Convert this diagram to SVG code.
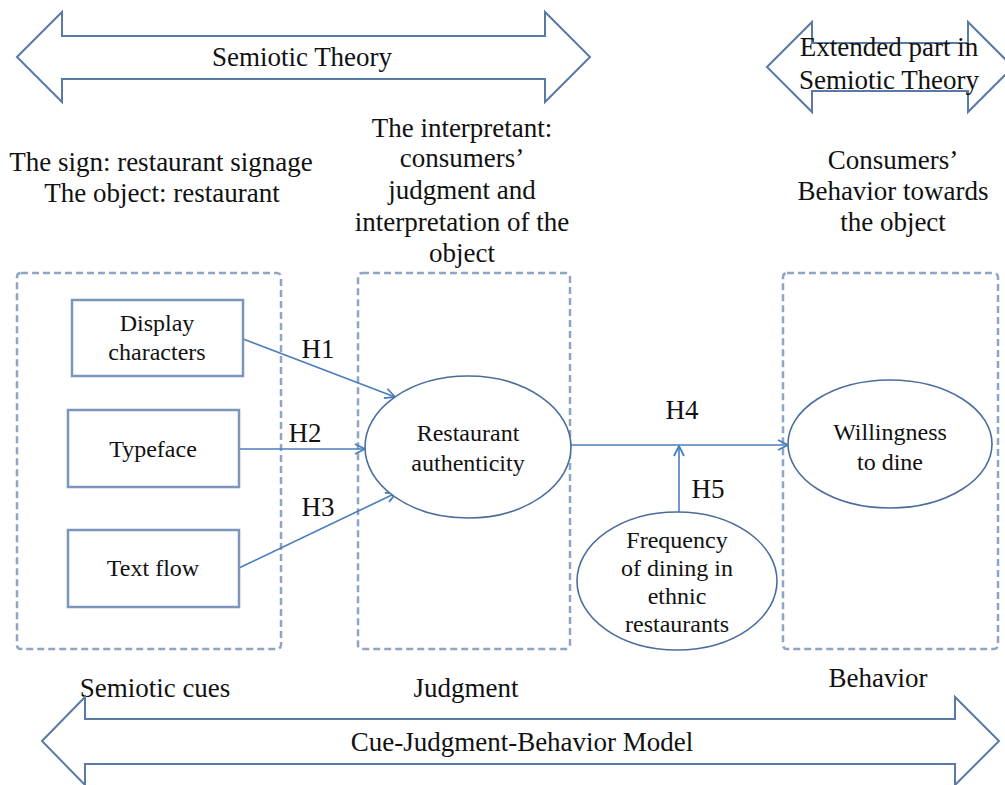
<svg xmlns="http://www.w3.org/2000/svg" width="1005" height="785" viewBox="0 0 1005 785">
<style>
text{font-family:"Liberation Serif","Times New Roman",serif;fill:#111;text-anchor:middle}
.h{font-size:27px}
.n{font-size:24px}
.big{fill:#fff;stroke:#5a7aa6;stroke-width:2}
.dash{fill:none;stroke:#8fa5c4;stroke-width:2.5;stroke-dasharray:7 4}
.box{fill:#fff;stroke:#7b95bd;stroke-width:2.5}
.ell{fill:#fff;stroke:#4a6d9e;stroke-width:1.6}
.con{fill:none;stroke:#4a7ebb;stroke-width:1.6;marker-end:url(#ah)}
</style>
<defs>
<marker id="ah" viewBox="0 0 12 12" refX="11" refY="6" markerWidth="12" markerHeight="12" markerUnits="userSpaceOnUse" orient="auto">
<path d="M1,1 L11,6 L1,11" fill="none" stroke="#4a7ebb" stroke-width="1.8"/>
</marker>
</defs>
<rect width="1005" height="785" fill="#fff"/>
<g id="semiotic-theory">
<polygon class="big" points="17,57 62,12 62,36 545,36 545,12 590,57 545,102 545,79 62,79 62,102"/>
<text class="h" x="302" y="66">Semiotic Theory</text>
</g>
<g id="extended-part">
<polygon class="big" points="767,67 812,22 812,43 968,43 968,22 1013,67 968,112 968,91 812,91 812,112"/>
<text class="h" x="889" y="56">Extended part in</text>
<text class="h" x="889" y="89">Semiotic Theory</text>
</g>
<g id="sign-label">
<text class="h" x="161" y="171">The sign: restaurant signage</text>
<text class="h" x="162" y="202">The object: restaurant</text>
</g>
<g id="interpretant-label">
<text class="h" x="462" y="137">The interpretant:</text>
<text class="h" x="462" y="167">consumers’</text>
<text class="h" x="462" y="199">judgment and</text>
<text class="h" x="462" y="231">interpretation of the</text>
<text class="h" x="462" y="262">object</text>
</g>
<g id="behavior-label">
<text class="h" x="893" y="169">Consumers’</text>
<text class="h" x="893" y="200">Behavior towards</text>
<text class="h" x="893" y="231">the object</text>
</g>
<g id="cues-group"><rect class="dash" x="17" y="273" width="264" height="376" rx="4"/></g>
<g id="judgment-group"><rect class="dash" x="358" y="273" width="212" height="376" rx="4"/></g>
<g id="behavior-group"><rect class="dash" x="783" y="273" width="215" height="376" rx="4"/></g>
<g id="connectors">
<line class="con" x1="243" y1="339" x2="395" y2="397"/>
<line class="con" x1="239" y1="449" x2="365" y2="449"/>
<line class="con" x1="239" y1="568" x2="396" y2="493"/>
<line class="con" x1="571" y1="445" x2="788" y2="445"/>
<line class="con" x1="679" y1="512" x2="679" y2="446"/>
</g>
<g id="display-characters">
<rect class="box" x="72" y="300" width="171" height="76"/>
<text class="n" x="157" y="331">Display</text>
<text class="n" x="157" y="360">characters</text>
</g>
<g id="typeface">
<rect class="box" x="68" y="410" width="171" height="77"/>
<text class="n" x="153" y="457">Typeface</text>
</g>
<g id="text-flow">
<rect class="box" x="68" y="530" width="171" height="77"/>
<text class="n" x="153" y="576">Text flow</text>
</g>
<g id="restaurant-authenticity">
<ellipse class="ell" cx="468" cy="447" rx="103" ry="71"/>
<text class="n" x="468" y="441">Restaurant</text>
<text class="n" x="468" y="471">authenticity</text>
</g>
<g id="willingness">
<ellipse class="ell" cx="890" cy="444" rx="102" ry="64"/>
<text class="n" x="890" y="440">Willingness</text>
<text class="n" x="890" y="470">to dine</text>
</g>
<g id="frequency">
<ellipse class="ell" cx="677" cy="581" rx="100" ry="69"/>
<text class="n" x="677" y="548">Frequency</text>
<text class="n" x="677" y="576">of dining in</text>
<text class="n" x="677" y="604">ethnic</text>
<text class="n" x="677" y="632">restaurants</text>
</g>
<g id="hypotheses">
<text class="h" x="318" y="358">H1</text>
<text class="h" x="305" y="442">H2</text>
<text class="h" x="318" y="516">H3</text>
<text class="h" x="682" y="419">H4</text>
<text class="h" x="708" y="498">H5</text>
</g>
<g id="stage-labels">
<text class="h" x="155" y="697">Semiotic cues</text>
<text class="h" x="466" y="697">Judgment</text>
<text class="h" x="878" y="687">Behavior</text>
</g>
<g id="cjb-model">
<polygon class="big" points="42,741 85,697 85,719 955,719 955,697 999,741 955,785 955,764 85,764 85,785"/>
<text class="h" x="522" y="751">Cue-Judgment-Behavior Model</text>
</g>
</svg>
